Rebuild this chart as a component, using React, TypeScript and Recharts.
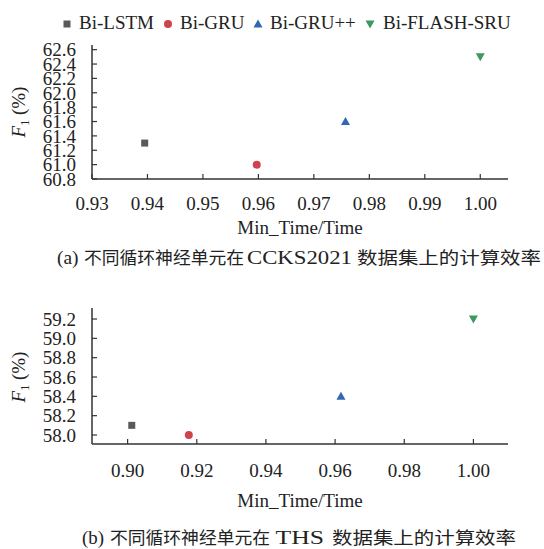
import { Label, Scatter, ScatterChart, XAxis, YAxis } from 'recharts'

const seriesNames = ['Bi-LSTM', 'Bi-GRU', 'Bi-GRU++', 'Bi-FLASH-SRU']
const seriesColors = ['#5a5a5a', '#cf434c', '#3366b3', '#3d9960']

// (a) CCKS2021
const ccksTimeRatio = [0.9395, 0.9597, 0.9757, 1.0]
const ccksF1 = [61.3, 61.0, 61.6, 62.5]
const ccksXTicks = [0.93, 0.94, 0.95, 0.96, 0.97, 0.98, 0.99, 1.0]
const ccksYTicks = [60.8, 61.0, 61.2, 61.4, 61.6, 61.8, 62.0, 62.2, 62.4, 62.6]

// (b) THS
const thsTimeRatio = [0.9012, 0.9177, 0.9617, 1.0]
const thsF1 = [58.1, 58.0, 58.4, 59.2]
const thsXTicks = [0.9, 0.92, 0.94, 0.96, 0.98, 1.0]
const thsYTicks = [58.0, 58.2, 58.4, 58.6, 58.8, 59.0, 59.2]

// caption pieces: [text, start x, end x]
const captionA: [string, number, number][] = [
  ['(a)', 57, 78.5],
  ['不同循环神经单元在', 84, 244],
  ['CCKS2021', 247, 352],
  ['数据集上的计算效率', 357, 541],
]
const captionB: [string, number, number][] = [
  ['(b)', 82, 104],
  ['不同循环神经单元在', 110, 270],
  ['THS', 275.5, 324],
  ['数据集上的计算效率', 332, 516],
]

const serif = 'Liberation Serif, Tinos, Times, serif'
const axisColor = '#333'
const textColor = '#222'

function Marker({ kind, cx, cy, fill }: { kind: number; cx: number; cy: number; fill: string }) {
  if (kind === 0) return <rect x={cx - 3.5} y={cy - 3.5} width={7} height={7} fill={fill} />
  if (kind === 1) return <circle cx={cx} cy={cy} r={4} fill={fill} />
  if (kind === 2)
    return <path d={`M${cx},${cy - 4.5}L${cx + 4.5},${cy + 3.5}L${cx - 4.5},${cy + 3.5}Z`} fill={fill} />
  return <path d={`M${cx},${cy + 4.5}L${cx + 4.5},${cy - 3.5}L${cx - 4.5},${cy - 3.5}Z`} fill={fill} />
}

interface PanelProps {
  xs: number[]
  ys: number[]
  xDomain: [number, number]
  yDomain: [number, number]
  xTicks: number[]
  yTicks: number[]
  height: number
  marginTop: number
  xAxisHeight: number
  xTickMargin: number
  titleOffset: number
}

function EfficiencyPanel(p: PanelProps) {
  const rows = seriesNames.map((name, i) => ({ name, x: p.xs[i], y: p.ys[i] }))
  const tickStyle = { fill: textColor, fontSize: 19, fontFamily: serif }
  return (
    <ScatterChart width={544} height={p.height} margin={{ top: p.marginTop, right: 36, bottom: 0, left: 0 }}>
      <XAxis
        type="number"
        dataKey="x"
        domain={p.xDomain}
        ticks={p.xTicks}
        interval={0}
        allowDataOverflow
        tickFormatter={(v: number) => v.toFixed(2)}
        height={p.xAxisHeight}
        tickSize={-5}
        tickMargin={p.xTickMargin}
        axisLine={{ stroke: axisColor, strokeWidth: 1.5 }}
        tickLine={{ stroke: axisColor, strokeWidth: 1.2 }}
        tick={tickStyle}
      >
        <Label
          value="Min_Time/Time"
          position="insideBottom"
          offset={p.titleOffset}
          style={{ fill: textColor, fontSize: 19, fontFamily: serif }}
        />
      </XAxis>
      <YAxis
        type="number"
        dataKey="y"
        domain={p.yDomain}
        ticks={p.yTicks}
        interval={0}
        allowDataOverflow
        tickFormatter={(v: number) => v.toFixed(1)}
        width={92}
        tickSize={-5}
        tickMargin={21}
        axisLine={{ stroke: axisColor, strokeWidth: 1.5 }}
        tickLine={{ stroke: axisColor, strokeWidth: 1.2 }}
        tick={tickStyle}
      />
      {rows.map((r, i) => (
        <Scatter
          key={r.name}
          name={r.name}
          data={[r]}
          fill={seriesColors[i]}
          isAnimationActive={false}
          shape={(s: any) => <Marker kind={i} cx={s.cx} cy={s.cy} fill={seriesColors[i]} />}
        />
      ))}
    </ScatterChart>
  )
}

const legendX = [67, 168, 258, 370]
const legendTextX = [79, 180, 270, 383]

function YTitle({ x, y }: { x: number; y: number }) {
  return (
    <text transform={`translate(${x},${y}) rotate(-90)`} textAnchor="middle" fill={textColor} fontSize={19} fontFamily={serif}>
      <tspan fontStyle="italic">F</tspan>
      <tspan fontSize={12} dy={4}>1</tspan>
      <tspan dy={-4}> (%)</tspan>
    </text>
  )
}

function Caption({ parts, y }: { parts: [string, number, number][]; y: number }) {
  return (
    <g>
      {parts.map(([t, x0, x1]) => {
        const cjk = /[\u4e00-\u9fff]/.test(t)
        return (
          <text
            key={t}
            x={x0}
            y={y}
            fill={textColor}
            fontSize={cjk ? 17.5 : 19.5}
            fontFamily={cjk ? "'Noto Sans CJK SC', sans-serif" : serif}
            textLength={x1 - x0}
            lengthAdjust="spacingAndGlyphs"
          >
            {t}
          </text>
        )
      })}
    </g>
  )
}

export default function App() {
  return (
    <div style={{ position: 'absolute', left: 0, top: 0, width: 544, height: 549, background: '#fff' }}>
      <div style={{ position: 'absolute', left: 0, top: 0 }}>
        <EfficiencyPanel
          xs={ccksTimeRatio}
          ys={ccksF1}
          xDomain={[0.93, 1.005]}
          yDomain={[60.8, 62.665]}
          xTicks={ccksXTicks}
          yTicks={ccksYTicks}
          height={245}
          marginTop={45}
          xAxisHeight={66}
          xTickMargin={22.5}
          titleOffset={11}
        />
      </div>
      <div style={{ position: 'absolute', left: 0, top: 260 }}>
        <EfficiencyPanel
          xs={thsTimeRatio}
          ys={thsF1}
          xDomain={[0.8897, 1.01]}
          yDomain={[57.907, 59.314]}
          xTicks={thsXTicks}
          yTicks={thsYTicks}
          height={289}
          marginTop={48}
          xAxisHeight={105}
          xTickMargin={24.5}
          titleOffset={42}
        />
      </div>
      <svg width={544} height={549} style={{ position: 'absolute', left: 0, top: 0, pointerEvents: 'none' }}>
        {seriesNames.map((name, i) => (
          <g key={name}>
            <Marker kind={i} cx={legendX[i]} cy={24} fill={seriesColors[i]} />
            <text x={legendTextX[i]} y={29} fill={textColor} fontSize={19} fontFamily={serif}>
              {name}
            </text>
          </g>
        ))}
        <YTitle x={25} y={112} />
        <YTitle x={25} y={377} />
        <Caption parts={captionA} y={264} />
        <Caption parts={captionB} y={544} />
      </svg>
    </div>
  )
}
